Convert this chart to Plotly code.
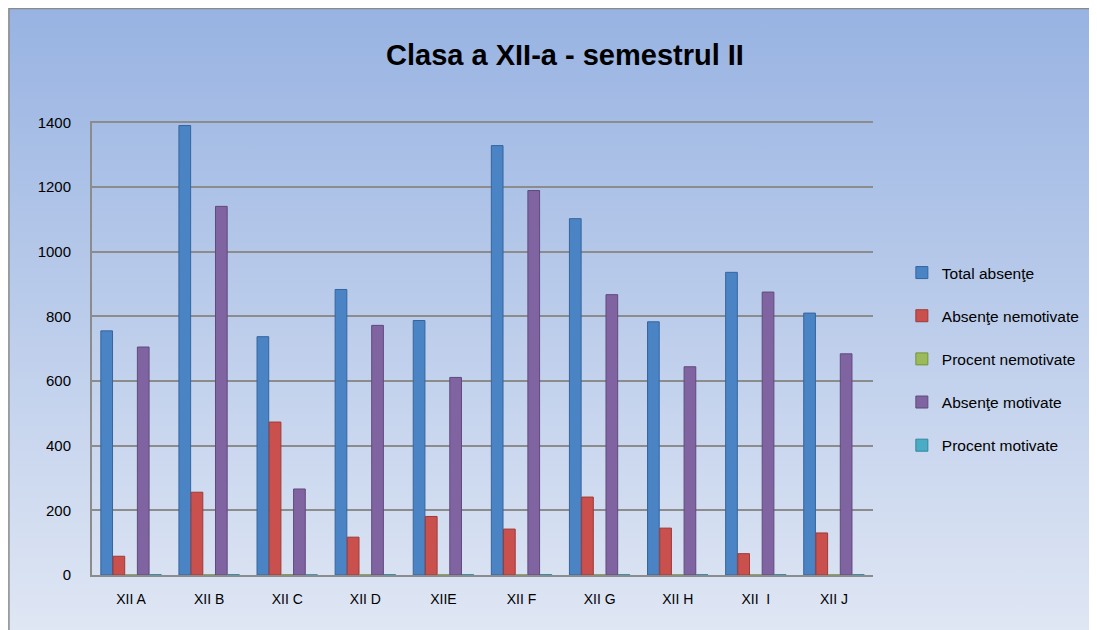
import base64
import plotly.graph_objects as go

categories = ["XII A", "XII B", "XII C", "XII D", "XIIE", "XII F", "XII G", "XII H", "XII  I", "XII J"]
total_absente = [755, 1390, 737, 883, 787, 1328, 1102, 783, 936, 810]
absente_nemotivate = [58, 256, 473, 117, 181, 142, 241, 145, 66, 130]
procent_nemotivate = [0.08, 0.18, 0.64, 0.13, 0.23, 0.11, 0.22, 0.19, 0.07, 0.16]
absente_motivate = [705, 1140, 266, 772, 611, 1189, 867, 644, 875, 684]
procent_motivate = [0.92, 0.82, 0.36, 0.87, 0.77, 0.89, 0.78, 0.81, 0.93, 0.84]

series_names = ["Total absenţe", "Absenţe nemotivate", "Procent nemotivate",
                "Absenţe motivate", "Procent motivate"]
series_values = [total_absente, absente_nemotivate, procent_nemotivate,
                 absente_motivate, procent_motivate]
colors = ["#4A84C4", "#C9504D", "#9BBB59", "#8064A2", "#4BACC6"]
edge_colors = ["#36659E", "#9C3B39", "#76923C", "#5F4A7B", "#31859C"]
y_ticks = [0, 200, 400, 600, 800, 1000, 1200, 1400]

FONT = "Liberation Sans, Arial, sans-serif"

fig = go.Figure()
for i, (name, vals) in enumerate(zip(series_names, series_values)):
    fig.add_trace(go.Bar(
        x=categories, y=vals, name=name,
        marker=dict(color=colors[i], line=dict(color=edge_colors[i], width=1)),
        legendgroup=f"g{i}",
    ))

OX, OY = 8, 8
FW, FH = 1097 - OX, 630 - OY
L, R, T, B = 92 - OX, 877 - OX, 121 - OY, 575 - OY
W, H = R - L, B - T

def px_x(sx):
    return (sx - OX - L) / W

def px_y(sy):
    return (B - (sy - OY)) / H

svg = ('<svg xmlns="http://www.w3.org/2000/svg" width="100" height="100" preserveAspectRatio="none">'
       '<defs><linearGradient id="g" x1="0" y1="0" x2="0" y2="1">'
       '<stop offset="0" stop-color="#98B3E2"/><stop offset="1" stop-color="#E0E7F4"/>'
       '</linearGradient></defs><rect width="100" height="100" fill="url(#g)"/></svg>')
uri = "data:image/svg+xml;base64," + base64.b64encode(svg.encode()).decode()

fig.update_layout(
    width=FW, height=FH,
    margin=dict(l=L, r=FW - R, t=T, b=FH - B),
    paper_bgcolor="white",
    plot_bgcolor="rgba(0,0,0,0)",
    barmode="group", bargap=0.22, bargroupgap=0.04,
    font=dict(family=FONT, size=14, color="#000000"),
    title=dict(text="<b>Clasa a XII-a - semestrul II</b>", x=(565 - OX) / FW, xanchor="center",
               y=1 - (55 - OY) / FH, yanchor="middle",
               font=dict(family=FONT, size=29, color="#000000")),
    images=[dict(source=uri, xref="paper", yref="paper", x=px_x(8), y=px_y(8),
                 sizex=1100 / W, sizey=630 / H, xanchor="left", yanchor="top",
                 sizing="stretch", layer="below")],
    shapes=[dict(type="rect", xref="paper", yref="paper", x0=px_x(8.5), x1=px_x(1110),
                 y0=px_y(640), y1=px_y(8.5), line=dict(color="#8A8A8A", width=1.5),
                 fillcolor="rgba(0,0,0,0)", layer="below")],
    legend=dict(x=px_x(906), y=px_y(256), xanchor="left", yanchor="top",
                font=dict(family=FONT, size=15.5, color="#000000"),
                bgcolor="rgba(0,0,0,0)", tracegroupgap=20, itemwidth=30),
    xaxis=dict(showgrid=False, showline=True, linecolor="#8C8C8C", linewidth=2,
               ticks="", tickfont=dict(size=14), ticklabelstandoff=10),
    yaxis=dict(range=[0, 1404], tickvals=y_ticks, ticktext=[str(v) for v in y_ticks],
               showgrid=True, gridcolor="#8C8C8C", gridwidth=2,
               showline=True, linecolor="#8C8C8C", linewidth=2,
               zeroline=False, ticks="", tickfont=dict(size=15), ticklabelstandoff=16),
)

fig.write_html("out.html")
